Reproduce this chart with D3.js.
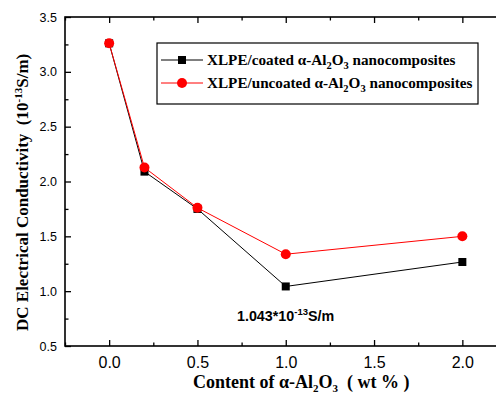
<!DOCTYPE html>
<html><head><meta charset="utf-8">
<script src="https://cdn.jsdelivr.net/npm/d3@7"></script>
<style>body{margin:0;background:#fff}svg{display:block}</style>
</head><body>
<script>
const contents = [0, 0.2, 0.5, 1.0, 2.0];
const coated = [3.26, 2.09, 1.75, 1.043, 1.266];
const uncoated = [3.26, 2.127, 1.76, 1.337, 1.50];
const xTicks = [0, 0.5, 1.0, 1.5, 2.0];
const yTicks = [0.5, 1.0, 1.5, 2.0, 2.5, 3.0, 3.5];
const xMinor = [-0.25, 0.25, 0.75, 1.25, 1.75, 2.25];
const yMinor = [0.75, 1.25, 1.75, 2.25, 2.75, 3.25];

const W = 496, H = 396;
const svg = d3.select("body").append("svg").attr("width", W).attr("height", H);
const x = d3.scaleLinear().domain([-0.25, 2.25]).range([65, 506.5]);
const y = d3.scaleLinear().domain([0.5, 3.5]).range([346, 17]);

const g = svg.append("g");
// frame
g.append("rect").attr("x", x(-0.25)).attr("y", y(3.5)).attr("width", x(2.25) - x(-0.25)).attr("height", y(0.5) - y(3.5))
  .attr("fill", "none").attr("stroke", "#000").attr("stroke-width", 1.6);

// bottom axis
const xb = d3.axisBottom(x).tickValues(xTicks).tickSize(-6).tickPadding(11).tickFormat(d3.format(".1f"));
const xbG = g.append("g").attr("transform", `translate(0,${y(0.5)})`).call(xb);
xbG.select(".domain").remove();
xbG.selectAll("text").attr("font-family", "Liberation Sans, Arial").attr("font-size", 16).attr("fill", "#000");
xbG.selectAll("line").attr("stroke-width", 1.3);
const xbm = d3.axisBottom(x).tickValues(xMinor).tickSize(-3.5).tickFormat("");
const xbmG = g.append("g").attr("transform", `translate(0,${y(0.5)})`).call(xbm);
xbmG.select(".domain").remove(); xbmG.selectAll("line").attr("stroke-width", 1.3);
// top axis
const xt = d3.axisTop(x).tickValues(xTicks).tickSize(-6).tickFormat("");
const xtG = g.append("g").attr("transform", `translate(0,${y(3.5)})`).call(xt);
xtG.select(".domain").remove(); xtG.selectAll("line").attr("stroke-width", 1.3);
const xtm = d3.axisTop(x).tickValues(xMinor).tickSize(-3.5).tickFormat("");
const xtmG = g.append("g").attr("transform", `translate(0,${y(3.5)})`).call(xtm);
xtmG.select(".domain").remove(); xtmG.selectAll("line").attr("stroke-width", 1.3);

// left axis
const yl = d3.axisLeft(y).tickValues(yTicks).tickSize(-6).tickPadding(8).tickFormat(d3.format(".1f"));
const ylG = g.append("g").attr("transform", `translate(${x(-0.25)},0)`).call(yl);
ylG.select(".domain").remove();
ylG.selectAll("text").attr("font-family", "Liberation Sans, Arial").attr("font-size", 12.5).attr("fill", "#000");
ylG.selectAll("line").attr("stroke-width", 1.3);
const ylm = d3.axisLeft(y).tickValues(yMinor).tickSize(-3.5).tickFormat("");
const ylmG = g.append("g").attr("transform", `translate(${x(-0.25)},0)`).call(ylm);
ylmG.select(".domain").remove(); ylmG.selectAll("line").attr("stroke-width", 1.3);

// lines
const line = d3.line().x(d => x(d[0])).y(d => y(d[1]));
const coatedPts = contents.map((c, i) => [c, coated[i]]);
const uncoatedPts = contents.map((c, i) => [c, uncoated[i]]);
g.append("path").datum(coatedPts).attr("d", line).attr("fill", "none").attr("stroke", "#000").attr("stroke-width", 1);
g.append("path").datum(uncoatedPts).attr("d", line).attr("fill", "none").attr("stroke", "#f00").attr("stroke-width", 1);
const sq = 8;
g.selectAll(".sq").data(coatedPts).enter().append("rect")
  .attr("x", d => x(d[0]) - sq / 2).attr("y", d => y(d[1]) - sq / 2).attr("width", sq).attr("height", sq).attr("fill", "#000");
g.selectAll(".ci").data(uncoatedPts).enter().append("circle")
  .attr("cx", d => x(d[0])).attr("cy", d => y(d[1])).attr("r", 5).attr("fill", "#f00");

// legend
const lg = svg.append("g");
lg.append("rect").attr("x", 157).attr("y", 43).attr("width", 321).attr("height", 61)
  .attr("fill", "#fff").attr("stroke", "#000").attr("stroke-width", 1.2);
const legendItems = [
  {pre: "XLPE/coated α-Al", color: "#000", shape: "sq"},
  {pre: "XLPE/uncoated α-Al", color: "#f00", shape: "ci"}
];
legendItems.forEach((it, i) => {
  const cy = 60 + i * 23;
  lg.append("line").attr("x1", 161).attr("x2", 203).attr("y1", cy).attr("y2", cy).attr("stroke", it.color).attr("stroke-width", 1);
  if (it.shape === "sq") lg.append("rect").attr("x", 182 - 4).attr("y", cy - 4).attr("width", 8).attr("height", 8).attr("fill", it.color);
  else lg.append("circle").attr("cx", 182).attr("cy", cy).attr("r", 5).attr("fill", it.color);
  const t = lg.append("text").attr("x", 207).attr("y", cy + 5).attr("font-family", "Liberation Serif, Times New Roman")
    .attr("font-weight", "bold").attr("font-size", 15.2).attr("fill", "#000");
  t.append("tspan").text(it.pre);
  t.append("tspan").attr("dy", 4).attr("font-size", 10.5).text("2");
  t.append("tspan").attr("dy", -4).text("O");
  t.append("tspan").attr("dy", 4).attr("font-size", 10.5).text("3");
  t.append("tspan").attr("dy", -4).text(" nanocomposites");
});

// annotation
const an = svg.append("text").attr("x", 237).attr("y", 321).attr("font-family", "Liberation Sans, Arial")
  .attr("font-weight", "bold").attr("font-size", 14.3).attr("fill", "#000");
an.append("tspan").text("1.043*10");
an.append("tspan").attr("dy", -6).attr("font-size", 9.5).text("-13");
an.append("tspan").attr("dy", 6).text("S/m");

// x title
const xtl = svg.append("text").attr("x", 193).attr("y", 388).attr("font-family", "Liberation Serif, Times New Roman")
  .attr("font-weight", "bold").attr("font-size", 18).attr("fill", "#000");
xtl.append("tspan").text("Content of α-Al");
xtl.append("tspan").attr("dy", 4).attr("font-size", 11).text("2");
xtl.append("tspan").attr("dy", -4).text("O");
xtl.append("tspan").attr("dy", 4).attr("font-size", 11).text("3");
xtl.append("tspan").attr("dy", -4).attr("xml:space", "preserve").text("  ( wt % )");

// y title
const ytl = svg.append("text").attr("transform", "translate(28,331) rotate(-90)")
  .attr("font-family", "Liberation Serif, Times New Roman").attr("font-weight", "bold").attr("font-size", 17).attr("fill", "#000");
ytl.append("tspan").attr("xml:space", "preserve").text("DC Electrical Conductivity  (10");
ytl.append("tspan").attr("dy", -6).attr("font-size", 11).text("-13");
ytl.append("tspan").attr("dy", 6).text("S/m)");
</script>
</body></html>
